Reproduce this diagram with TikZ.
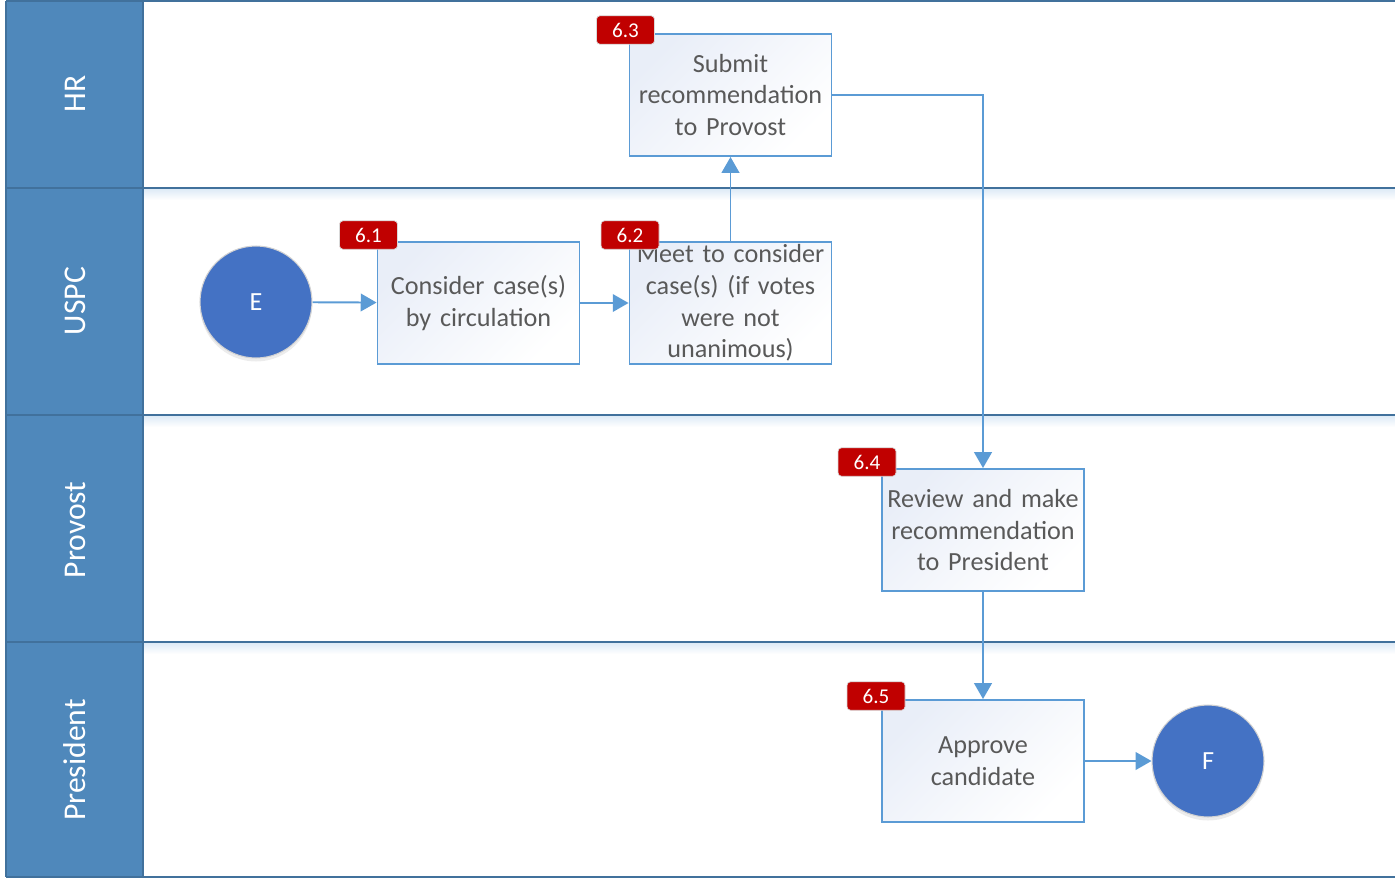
\documentclass[tikz,border=0pt]{standalone}
\usepackage{fontspec}
\setmainfont{Carlito}
\usetikzlibrary{arrows.meta,shadows}
\definecolor{lanehead}{HTML}{4F88BB}
\definecolor{laneline}{HTML}{41719C}
\definecolor{flowline}{HTML}{5B9BD5}
\definecolor{startend}{HTML}{4472C4}
\definecolor{badgered}{HTML}{C00000}
\definecolor{boxtext}{HTML}{595959}
\definecolor{boxtint}{HTML}{E9EEF8}
\newcommand{\boxfont}   {\fontsize{14.9}{18.1}\selectfont}
\newcommand{\lanefont}  {\fontsize{18}{20}\selectfont}

\begin{document}
\begin{tikzpicture}[x=0.02cm,y=-0.02cm,
   task/.style={draw=flowline,line width=1.1pt,minimum width=4.04cm,minimum height=2.44cm,
                text width=3.9cm,align=center,inner sep=0pt,text=boxtext,font=\boxfont,
                top color=boxtint,bottom color=white,shading angle=45},
   startend/.style={circle,fill=startend,draw=gray!35,line width=0.6pt,minimum size=2.24cm,
                text=white,font=\boxfont,drop shadow={opacity=0.15,shadow xshift=0pt,shadow yshift=-2pt}},
   badge/.style={fill=badgered,draw=gray!30,line width=0.4pt,rounded corners=2pt,
                minimum width=1.16cm,minimum height=0.57cm,inner sep=0pt,text=white,
                font=\fontsize{12}{13}\selectfont},
   lanename/.style={rotate=90,text=white,font=\lanefont},
   flow/.style={draw=flowline,line width=1.1pt,-{Triangle[length=9pt,width=10pt]}}]
   \useasboundingbox (0,0) rectangle (1395,879);
   % lanes
   \fill[lanehead] (6,1) rectangle (143,877);
   \foreach \y in {188,415,642}
      \shade[top color=flowline!22,bottom color=white] (143,\y) rectangle (1395,\y+12);
   \foreach \y in {1,188,415,642,877}
      \draw[laneline,line width=1.1pt] (6,\y) -- (1395,\y);
   \draw[laneline,line width=1.1pt] (6,1) -- (6,877);
   \draw[laneline,line width=1.1pt] (143,1) -- (143,877);
   \node[lanename] (hr)   at (75,94)  {HR};
   \node[lanename] (uspc) at (75,301) {USPC};
   \node[lanename] (prov) at (75,530) {Provost};
   \node[lanename] (pres) at (75,760) {President};
   % steps
   \node[startend] (E)   at (256,302)   {E};
   \node[task]     (t61) at (478.5,303) {Consider case(s)\\by circulation};
   \node[task]     (t62) at (730.5,303) {Meet to consider\\case(s) (if votes\\were not\\unanimous)};
   \node[task]     (t63) at (730.5,95)  {Submit\\recommendation\\to Provost};
   \node[task]     (t64) at (983,530)   {Review and make\\recommendation\\to President};
   \node[task]     (t65) at (983,761)   {Approve\\candidate};
   \node[startend] (F)   at (1208,761)  {F};
   \node[badge] (b61) at (368.5,235) {6.1};
   \node[badge] (b62) at (630,235)   {6.2};
   \node[badge] (b63) at (625.5,30)  {6.3};
   \node[badge] (b64) at (867,462)   {6.4};
   \node[badge] (b65) at (876,696)   {6.5};
   % connectors
   \draw[flow] (E) -- (t61);
   \draw[flow] (t61) -- (t62);
   \draw[flow] (t62) -- (t63);
   \draw[flow] (t63.east) -| (t64.north);
   \draw[flow] (t64) -- (t65);
   \draw[flow] (t65) -- (F);
\end{tikzpicture}
\end{document}
